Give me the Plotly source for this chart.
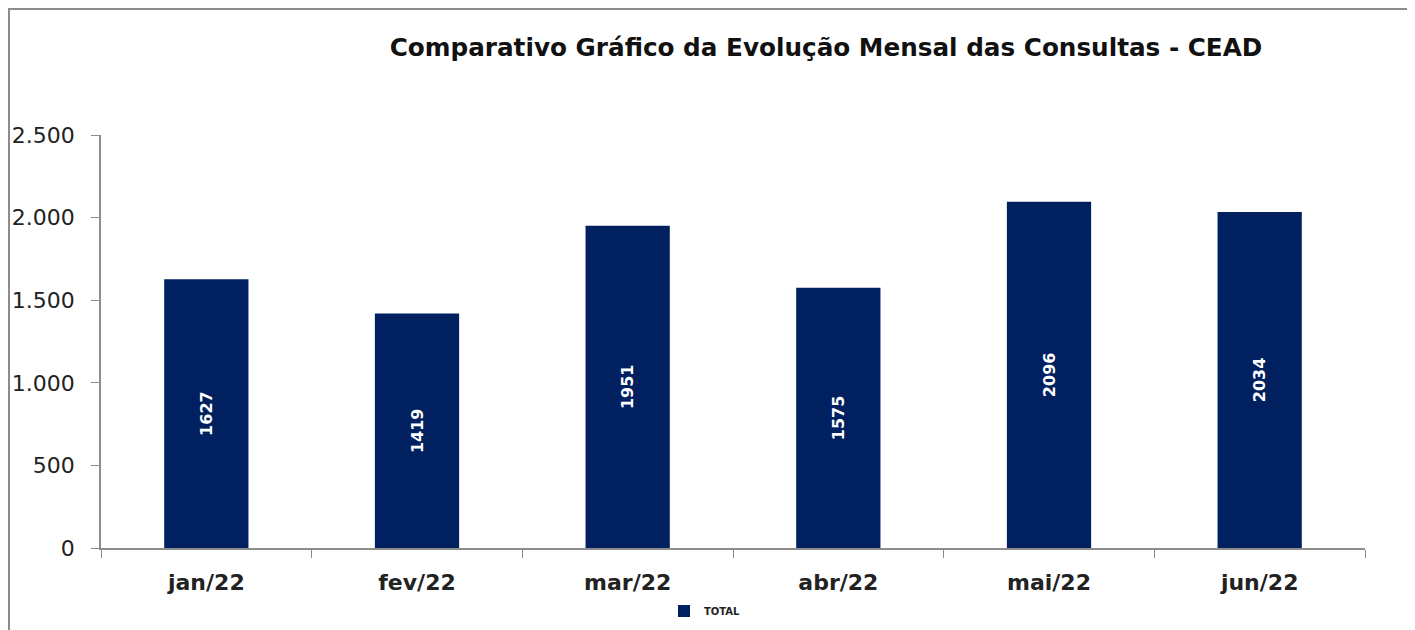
import plotly.graph_objects as go

meses = ["jan/22", "fev/22", "mar/22", "abr/22", "mai/22", "jun/22"]
total = [1627, 1419, 1951, 1575, 2096, 2034]
y_ticks = [0, 500, 1000, 1500, 2000, 2500]

# the page puts the figure 8px in from the top-left corner
OFF = 8
W, H = 1415 - OFF, 630 - OFF
ml, mr, mt, mb = 101 - OFF, 50, 135 - OFF, 82
pw, ph = W - ml - mr, H - mt - mb


def px_x(page_x):
    return (page_x - OFF - ml) / pw


def px_y(page_y):
    return (H - mb - (page_y - OFF)) / ph


fig = go.Figure()
fig.add_trace(go.Bar(
    x=meses, y=total, name="TOTAL",
    marker=dict(color="#002060", line=dict(width=0)),
    width=0.4,
    text=total, textposition="inside", insidetextanchor="middle",
    textangle=-90,
    textfont=dict(family="DejaVu Sans", size=16, color="white", weight="bold"),
))

fig.update_layout(
    width=W, height=H,
    margin=dict(l=ml, r=mr, t=mt, b=mb, autoexpand=False),
    paper_bgcolor="white", plot_bgcolor="white",
    separators=",.",
    title=dict(
        text="<b>Comparativo Gráfico da Evolução Mensal das Consultas - CEAD</b>",
        x=(826 - OFF) / W, xanchor="center", y=1 - (47 - OFF) / H, yanchor="middle",
        font=dict(family="DejaVu Sans", size=24.7, color="#111111"),
    ),
    showlegend=True,
    legend=dict(
        orientation="h", x=px_x(705), xanchor="center",
        y=px_y(611), yanchor="middle",
        font=dict(family="DejaVu Sans", size=10, color="#222222", weight="bold"),
        itemwidth=30, bgcolor="rgba(0,0,0,0)",
    ),
    xaxis=dict(
        automargin=False,
        showline=True, linecolor="#8c8c8c", linewidth=1.5,
        ticks="outside", tickson="boundaries", ticklen=8, tickcolor="#8c8c8c",
        tickfont=dict(family="DejaVu Sans", size=22, color="#222222", weight="bold"),
        ticklabelstandoff=14,
    ),
    yaxis=dict(
        automargin=False,
        range=[0, 2500], tickvals=y_ticks, tickformat=",d",
        showline=True, linecolor="#8c8c8c", linewidth=1.5,
        ticks="outside", ticklen=8, tickcolor="#8c8c8c",
        showgrid=False, zeroline=False,
        tickfont=dict(family="DejaVu Sans", size=22, color="#222222"),
        ticklabelstandoff=12,
    ),
)

# outer chart border
fig.add_shape(
    type="rect", xref="paper", yref="paper",
    x0=px_x(9), x1=px_x(1411),
    y0=px_y(680), y1=px_y(9),
    line=dict(color="#8c8c8c", width=2), fillcolor="rgba(0,0,0,0)", layer="below",
)

fig.write_html("out.html")
